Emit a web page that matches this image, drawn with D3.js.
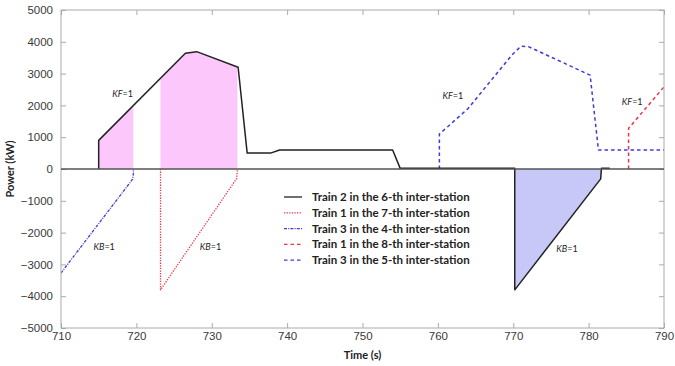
<!DOCTYPE html>
<html><head><meta charset="utf-8">
<script src="https://cdn.jsdelivr.net/npm/d3@7/dist/d3.min.js"></script>
<style>body{margin:0;background:#fff}svg{display:block}</style>
</head><body>
<svg id="c" width="675" height="366"></svg>
<script>
// ---- data ----
const xTicks = [710,720,730,740,750,760,770,780,790];
const yTicks = [5000,4000,3000,2000,1000,0,-1000,-2000,-3000,-4000,-5000];
const seriesNames = ["Train 2 in the 6-th inter-station","Train 1 in the 7-th inter-station","Train 3 in the 4-th inter-station","Train 1 in the 8-th inter-station","Train 3 in the 5-th inter-station"];
const train2_6 = [[715,0],[715,900],[726.5,3640],[728,3690],[733.5,3200],[734.7,500],[737.8,500],[739,600],[754,600],[755,20],[770.2,20],[770.2,-3800],[781.6,-310],[781.7,20],[782.8,20]];
const train1_7 = [[723.2,0],[723.2,-3800],[733.3,-300],[733.4,0]];
const train3_4 = [[710,-3270],[719.5,-320],[719.6,-150],[719.6,0]];
const train1_8 = [[785.3,0],[785.3,1280],[785.7,1390],[790,2580]];
const train3_5 = [[760.2,0],[760.2,1100],[761.3,1330],[764,1900],[769.8,3580],[771,3860],[772,3850],[780.2,2950],[781.3,600],[790,600]];
const pinkIntervals = [[715,719.6],[723.2,733.4]];
const blueInterval = [770.2,781.7];
const kfLabels = [[716.8,2250],[760.6,2200],[784.4,2000]];
const kbLabels = [[714.3,-2560],[728.4,-2560],[775.7,-2600]];

// ---- layout ----
const svg = d3.select("#c");
const L=61,R=664,T=10,B=328;
const x = d3.scaleLinear().domain([710,790]).range([L,R]);
const y = d3.scaleLinear().domain([-5000,5000]).range([B,T]);

svg.append("defs").append("clipPath").attr("id","clip")
  .append("rect").attr("x",L).attr("y",T).attr("width",R-L).attr("height",B-T);

function interp(data,t){
  for(let i=0;i<data.length-1;i++){
    const a=data[i],b=data[i+1];
    if(t>=a[0]&&t<=b[0]&&b[0]>a[0]) return a[1]+(b[1]-a[1])*(t-a[0])/(b[0]-a[0]);
  }
  return 0;
}
function segment(data,t0,t1){
  const pts=[[t0,interp(data,t0)]];
  data.forEach(d=>{ if(d[0]>t0&&d[0]<t1) pts.push(d); });
  pts.push([t1,interp(data,t1)]);
  return pts;
}
const area = d3.area().x(d=>x(d[0])).y0(y(0)).y1(d=>y(d[1]));
const line = d3.line().x(d=>x(d[0])).y(d=>y(d[1]));

const g = svg.append("g").attr("clip-path","url(#clip)");
pinkIntervals.forEach(iv=>{
  g.append("path").datum(segment(train2_6,iv[0],iv[1])).attr("d",area).attr("fill","#fcc8fc");
});
g.append("path").datum(train2_6.filter(d=>d[0]>=blueInterval[0]&&d[0]<=blueInterval[1]))
  .attr("d",area).attr("fill","#c8c8f8");

// axes frame
const axisCol="#aaa";
svg.append("rect").attr("x",L).attr("y",T).attr("width",R-L).attr("height",B-T)
  .attr("fill","none").attr("stroke",axisCol).attr("stroke-width",1);
const xb = svg.append("g").attr("transform",`translate(0,${B})`)
  .call(d3.axisBottom(x).tickValues(xTicks).tickSize(-5).tickPadding(6).tickFormat(d3.format("d")));
const xt = svg.append("g").attr("transform",`translate(0,${T})`)
  .call(d3.axisTop(x).tickValues(xTicks).tickSize(-5).tickFormat(""));
const yl = svg.append("g").attr("transform",`translate(${L},0)`)
  .call(d3.axisLeft(y).tickValues(yTicks).tickSize(-5).tickPadding(8).tickFormat(d3.format("d")));
const yr = svg.append("g").attr("transform",`translate(${R},0)`)
  .call(d3.axisRight(y).tickValues(yTicks).tickSize(-5).tickFormat(""));
[xb,xt,yl,yr].forEach(a=>{
  a.select(".domain").remove();
  a.selectAll("line").attr("stroke",axisCol);
  a.selectAll("text").attr("font-family","'Liberation Sans',Arial,sans-serif").attr("font-size",11.5).attr("fill","#3a3a3a");
});
xb.selectAll("text").attr("dy","0.55em");

// zero line
svg.append("line").attr("x1",L).attr("x2",R).attr("y1",y(0)).attr("y2",y(0))
  .attr("stroke","#555").attr("stroke-width",1.6);

// series
const styles = [
  {data:train2_6,color:"#222",dash:null,w:1.5},
  {data:train1_7,color:"#ee3344",dash:"1.3,1.3",w:1.3},
  {data:train3_4,color:"#3b3bd8",dash:"3,1.2,1,1.2",w:1.3},
  {data:train1_8,color:"#ee3344",dash:"3.5,3",w:1.5},
  {data:train3_5,color:"#3b3bdd",dash:"3.5,3",w:1.5}
];
[2,1,4,3,0].forEach(i=>{
  const s=styles[i];
  g.append("path").datum(s.data).attr("d",line).attr("fill","none")
    .attr("stroke",s.color).attr("stroke-width",s.w)
    .attr("stroke-dasharray",s.dash).attr("stroke-linejoin","round");
});

// labels KF / KB
function klabel(p,k){
  const t=svg.append("text").attr("x",x(p[0])).attr("y",y(p[1]))
    .attr("font-family","Lato,'Liberation Sans',sans-serif").attr("font-size",9).attr("fill","#222");
  t.append("tspan").attr("font-style","italic").text(k);
  t.append("tspan").text("=1");
}
kfLabels.forEach(p=>klabel(p,"KF"));
kbLabels.forEach(p=>klabel(p,"KB"));

// legend
const lg = svg.append("g");
const ly0=197, dy=15.8;
styles.forEach((s,i)=>{
  const yy=ly0+i*dy;
  lg.append("line").attr("x1",284).attr("x2",302).attr("y1",yy).attr("y2",yy)
    .attr("stroke",s.color).attr("stroke-width",1.3).attr("stroke-dasharray",s.dash);
  lg.append("text").attr("x",312).attr("y",yy).attr("dy","0.35em")
    .attr("font-family","Lato,'Open Sans',sans-serif").attr("font-weight","bold")
    .attr("font-size",11.5).attr("fill","#222").text(seriesNames[i]);
});

// axis titles
svg.append("text").attr("x",(L+R)/2).attr("y",359).attr("text-anchor","middle")
  .attr("font-family","Lato,'Open Sans',sans-serif").attr("font-weight","bold").attr("font-size",11)
  .attr("fill","#222").text("Time (s)");
svg.append("text").attr("transform",`translate(14,${(T+B)/2}) rotate(-90)`).attr("text-anchor","middle")
  .attr("font-family","Lato,'Open Sans',sans-serif").attr("font-weight","bold").attr("font-size",11)
  .attr("fill","#222").text("Power (kW)");
</script>
</body></html>
